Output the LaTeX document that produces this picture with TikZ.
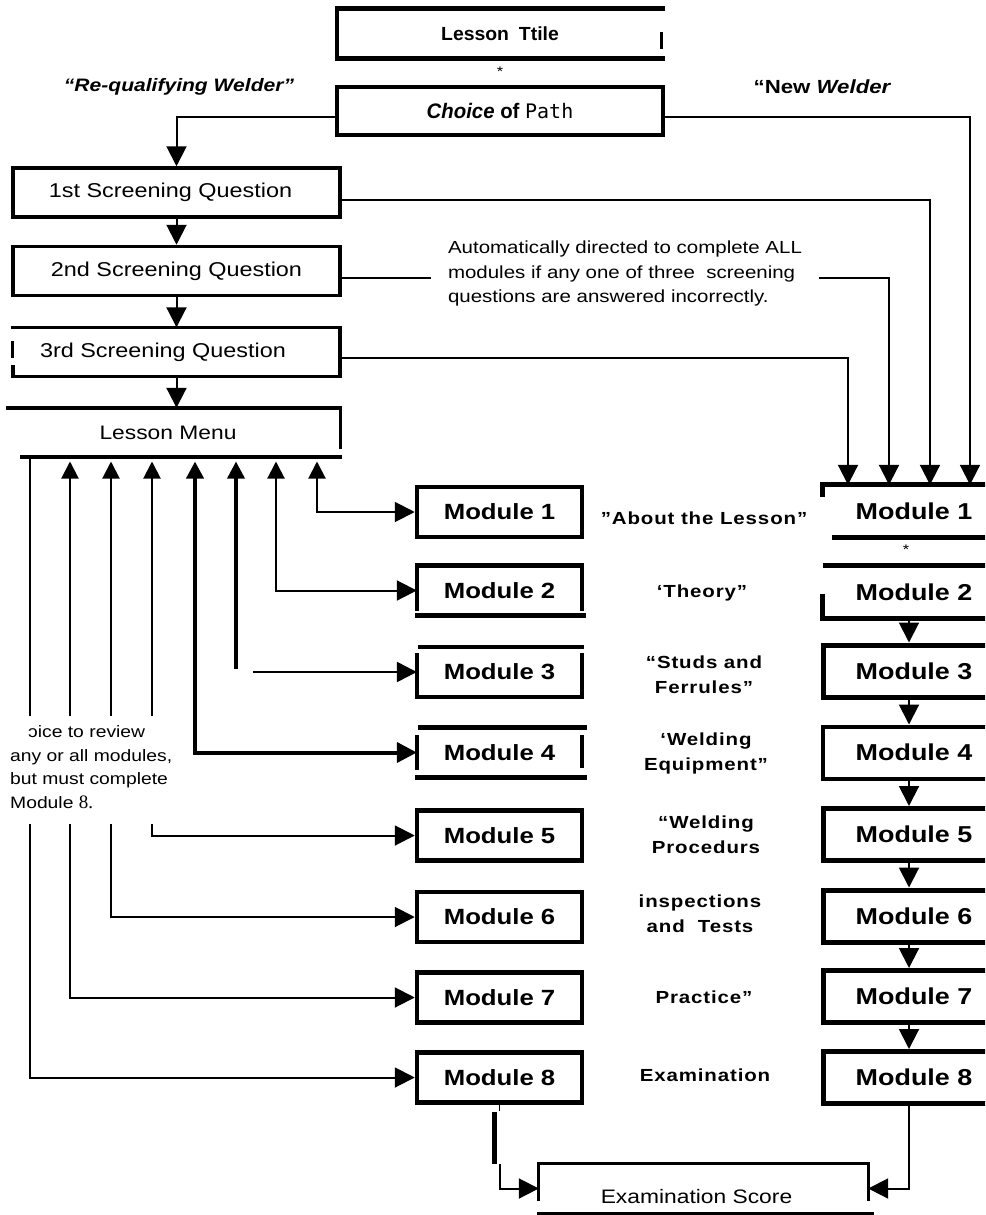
\documentclass[tikz,border=0pt]{standalone}
\usepackage{fontspec}
\setmainfont{Liberation Sans}[FakeStretch=1.17]
\newfontfamily\narrowsf{Liberation Sans}[FakeStretch=0.97]
\newfontfamily\titlesf{Liberation Sans}[FakeStretch=1.02]
\newfontfamily\monosf{DejaVu Sans Mono}
\newfontfamily\serifface{Liberation Serif}
\usetikzlibrary{arrows.meta}
\newcommand\fsz[2]{\fontsize{#1}{#2}\selectfont}
\begin{document}
\begin{tikzpicture}[x=1pt,y=-1pt,
  conn/.style={line width=2pt},
  bline/.style={line width=#1, line cap=rect},
  tipA/.tip={Triangle[length=20pt,width=20pt]},
  tipU/.tip={Triangle[length=17pt,width=17pt]},
  sqbox/.style={minimum width=327pt, minimum height=49pt, inner sep=0pt, font=\fsz{20}{24}},
  lmod/.style={minimum width=165pt, minimum height=50pt, inner sep=0pt, font=\fsz{22}{24}\bfseries},
  rmod/.style={minimum width=182pt, minimum height=52pt, inner sep=0pt, font=\fsz{23}{26}\bfseries},
  lab/.style={inner sep=0pt, align=center, font=\fsz{17.5}{25}\bfseries\addfontfeature{LetterSpace=5}},
]
\clip (0,0) rectangle (985,1215);
\fill[white] (0,0) rectangle (985,1215);

% helper coordinates
\coordinate (kA) at (848,0);
\coordinate (kB) at (889,0);
\coordinate (kC) at (930,0);
\coordinate (kD) at (970,0);
\coordinate (kR) at (909,0);

% title
\node[minimum width=326pt, minimum height=50pt, inner sep=0pt] (title) at (500,33.5)
  {\titlesf\bfseries\fsz{19}{20}Lesson\hspace{10pt}Ttile};
\draw[bline=4.5pt] (title.north east) -- (title.north west) -- (title.south west) -- (title.south east);
\draw[bline=3pt] ([xshift=-2pt]title.east) -- ++(0,14);
\node[inner sep=0pt] (star1) at (500,72) {\fsz{14}{14}*};
\node[inner sep=0pt] (req) at (179,87) {\fsz{18}{20}\bfseries\itshape “Re-qualifying Welder”};
\node[inner sep=0pt] (neww) at (822,87) {\fsz{19}{20}\bfseries “New \itshape Welder};

\node[draw, line width=4pt, minimum width=326pt, minimum height=48pt, inner sep=0pt] (choice) at (500,111)
  {\narrowsf\fsz{21}{24}\bfseries\itshape Choice \upshape of \monosf\mdseries\fsz{20}{24}Path};

% screening questions
\node[sqbox, draw, line width=3.5pt] (sq1) at (176.5,192.5) {\hspace*{-12pt}1st Screening Question};
\node[sqbox, draw, line width=3.5pt] (sq2) at (176.5,271) {2nd Screening Question};
\node[sqbox] (sq3) at (176.5,352) {\hspace*{-27pt}3rd Screening Question};
\draw[bline=3.5pt] (sq3.north west) -- (sq3.north east) -- (sq3.south east) -- (sq3.south west) -- ++(0,-10);
\draw[bline=3pt] ([yshift=10pt]sq3.west) -- ([yshift=-4pt]sq3.west);

% lesson menu
\node[minimum width=332pt, minimum height=49pt, inner sep=0pt, font=\fsz{19.5}{24}] (menu) at (174,432.5) {\hspace*{-12pt}Lesson Menu};
\draw[bline=4pt] (menu.north west) -- (menu.north east);
\draw[bline=3pt] (menu.north east) -- ++(0,40);
\draw[bline=4pt] ([xshift=14pt]menu.south west) -- (menu.south east);

% automatic note
\node[inner sep=0pt, inner xsep=17pt, align=left, font=\fsz{17.5}{24.5}] (auto) at (625,273.5)
  {Automatically directed to complete ALL\\modules if any one of three\ \ screening\\questions are answered incorrectly.};

% left modules
\node[lmod, draw, line width=4.5pt] (lm1) at (499.5,512) {Module\hspace{7pt}1};
\node[lmod] (lm2) at (499.5,590.5) {Module\hspace{7pt}2};
\node[lmod] (lm3) at (499.5,672) {Module\hspace{7pt}3};
\node[lmod] (lm4) at (499.5,752.5) {Module\hspace{7pt}4};
\node[lmod, draw, line width=4.5pt] (lm5) at (499.5,835.5) {Module\hspace{7pt}5};
\node[lmod, draw, line width=4.5pt] (lm6) at (499.5,917) {Module\hspace{7pt}6};
\node[lmod, draw, line width=4.5pt] (lm7) at (499.5,997.5) {Module\hspace{7pt}7};
\node[lmod, draw, line width=4.5pt] (lm8) at (499.5,1077.5) {Module\hspace{7pt}8};
\draw[bline=4.5pt] ([yshift=-43pt]lm2.north west) -- (lm2.north west) -- (lm2.north east) -- ([yshift=-43pt]lm2.north east);
\draw[bline=4.5pt] (lm2.south west) -- ([xshift=2pt]lm2.south east);
\draw[bline=4.5pt] ([xshift=3pt]lm3.north west) -- (lm3.north east);
\draw[bline=4.5pt] ([yshift=42pt]lm3.south west) -- (lm3.south west) -- (lm3.south east) -- ([yshift=42pt]lm3.south east);
\draw[bline=4.5pt] ([xshift=3pt]lm4.north west) -- ([xshift=3pt]lm4.north east);
\draw[bline=4.5pt] ([yshift=15pt]lm4.west) -- ([yshift=-15pt]lm4.west);
\draw[bline=4.5pt] ([yshift=15pt]lm4.east) -- ([yshift=-13pt]lm4.east);
\draw[bline=4.5pt] (lm4.south west) -- ([xshift=3pt]lm4.south east);

% right modules
\node[rmod] (rm1) at (914,511) {Module 1};
\draw[bline=5pt] ([yshift=-10pt]rm1.north west) -- (rm1.north west) -- (rm1.north east);
\draw[bline=5pt] ([xshift=12pt]rm1.south west) -- (rm1.south east);
\node[inner sep=0pt] (star2) at (906,550) {\fsz{14}{14}*};
\node[rmod] (rm2) at (914,592) {Module 2};
\draw[bline=5pt] ([xshift=3pt]rm2.north west) -- (rm2.north east);
\draw[bline=5pt] ([yshift=22pt]rm2.south west) -- (rm2.south west) -- (rm2.south east);
\node[rmod, draw, line width=5pt] (rm3) at (914,671) {Module 3};
\node[rmod, draw, line width=4pt] (rm4) at (914,752.5) {Module 4};
\node[rmod, draw, line width=5pt] (rm5) at (914,834.5) {Module 5};
\node[rmod, draw, line width=5pt] (rm6) at (914,916) {Module 6};
\node[rmod, draw, line width=5pt] (rm7) at (914,996.5) {Module 7};
\node[rmod, draw, line width=5pt] (rm8) at (914,1077.5) {Module 8};
\foreach \a/\b in {rm2/rm3,rm3/rm4,rm4/rm5,rm5/rm6,rm6/rm7,rm7/rm8}
  \draw[conn,-tipA] (\a.south -| kR) -- (\b.north -| kR);

% top connectors
\draw[conn,-tipA] ([yshift=-5.5pt]choice.west) -| (sq1.north);
\draw[conn,-tipA] ([yshift=-5.5pt]choice.east) -| (kD |- rm1.north);
\draw[conn,-tipA] ([yshift=-7.5pt]sq1.east) -| (kC |- rm1.north);
\draw[conn] ([yshift=-7pt]sq2.east) -- ([yshift=-7pt]sq2.east -| auto.west);
\draw[conn,-tipA] ([yshift=-7pt]sq2.east -| auto.east) -| (kB |- rm1.north);
\draw[conn,-tipA] ([yshift=-6pt]sq3.east) -| (kA |- rm1.north);
\draw[conn,-tipA] (sq1.south) -- (sq2.north);
\draw[conn,-tipA] (sq2.south) -- (sq3.north);
\draw[conn,-tipA] (sq3.south) -- (sq3.south |- menu.north);

% middle labels
\node[lab] (lab1) at (704,518) {"About the Lesson"};
\node[lab] (lab2) at (702,593) {‘Theory”};
\node[lab] (lab3) at (704,674.5) {“Studs and\\Ferrules”};
\node[lab] (lab4) at (706,753) {‘Welding\\Equipment”};
\node[lab] (lab5) at (706,835) {“Welding\\Procedurs};
\node[lab] (lab6) at (700,913.5) {inspections\\and\ \ Tests};
\node[lab] (lab7) at (704,997) {Practice”};
\node[lab] (lab8) at (705,1075) {Examination};

% menu to module connectors
\coordinate (u1) at (317,461.5);
\coordinate (u2) at (276,461.5);
\coordinate (u3) at (236,461.5);
\coordinate (u4) at (195,461.5);
\coordinate (u5) at (152,461.5);
\coordinate (u6) at (111,461.5);
\coordinate (u7) at (70,461.5);
\coordinate (u8) at (30,461.5);
\coordinate (g3) at (236,669);
\coordinate (h3) at (253,672);
\coordinate (b5) at (152,716); \coordinate (c5) at (152,824);
\coordinate (b6) at (111,716); \coordinate (c6) at (111,824);
\coordinate (b7) at (70,716);  \coordinate (c7) at (70,824);
\coordinate (b8) at (30,716);  \coordinate (c8) at (30,824);
\draw[conn,tipU-tipA] (u1) |- (lm1.west);
\draw[conn,tipU-tipA] (u2) |- (lm2.west);
\draw[line width=3.5pt,tipU-] (u3) -- (g3);
\draw[line width=2.5pt,-tipA] (h3) -- (lm3.west);
\draw[line width=4pt,tipU-tipA] (u4) |- (lm4.west);
\draw[conn,tipU-] (u5) -- (b5);
\draw[conn,-tipA] (c5) |- (lm5.west);
\draw[conn,tipU-] (u6) -- (b6);
\draw[conn,-tipA] (c6) |- (lm6.west);
\draw[conn,tipU-] (u7) -- (b7);
\draw[conn,-tipA] (c7) |- (lm7.west);
\draw[conn] (menu.south -| u8) -- (b8);
\draw[conn,-tipA] (c8) |- (lm8.west);

\node[inner sep=0pt, align=left, anchor=west, font=\fsz{16.5}{23.5}] (review) at (10,767)
  {\hspace*{18pt}ɔice to review\\any or all modules,\\but must complete\\Module {\serifface\fsz{19}{23.5}8.}};

% examination score
\node[minimum width=329pt, minimum height=49pt, inner sep=0pt, text height=14pt, text depth=0pt, font=\fsz{19.5}{24}] (exam) at (703.5,1188.5)
  {\raisebox{-8pt}{\hspace*{-14pt}Examination Score}};
\draw[bline=3pt] ([yshift=-36pt]exam.north west) -- (exam.north west) -- (exam.north east) -- ([yshift=-36pt]exam.north east);
\draw[bline=3pt] (exam.south west) -- ([xshift=4pt]exam.south east);

\coordinate (m8a) at (494,1112);
\coordinate (m8b) at (494,1164);
\coordinate (e1) at (500,1164);
\draw[line width=1.5pt] (lm8.south) -- ++(0,6);
\draw[line width=5pt] (m8a) -- (m8b);
\draw[conn,-tipA] (e1) |- (exam.west);
\draw[conn,-tipA] (rm8.south -| kR) |- (exam.east);
\end{tikzpicture}
\end{document}
